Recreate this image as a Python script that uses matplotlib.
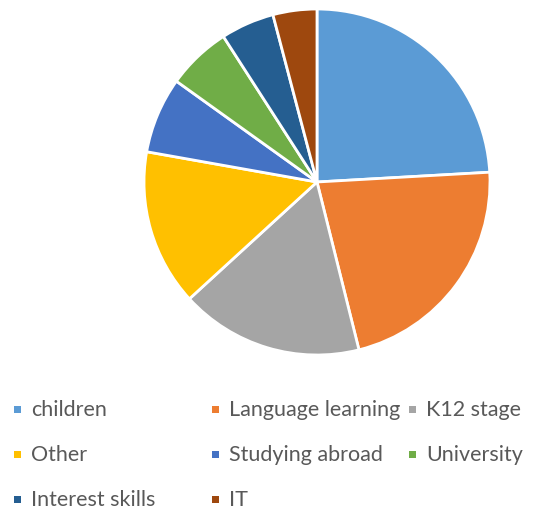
import matplotlib
matplotlib.use("Agg")
import matplotlib.pyplot as plt
from matplotlib.patches import Rectangle

categories = ["children", "Language learning", "K12 stage", "Other",
              "Studying abroad", "University", "Interest skills", "IT"]
values = [24.1, 22.0, 17.1, 14.6, 7.1, 6.0, 5.0, 4.1]
colors = ["#5B9BD5", "#ED7D31", "#A5A5A5", "#FFC000",
          "#4472C4", "#70AD47", "#255E91", "#9E480E"]

W, H = 549, 510
fig = plt.figure(figsize=(W / 100, H / 100), dpi=100)
fig.patch.set_facecolor("white")

cx, cy, r = 317, 183, 173
ax = fig.add_axes([(cx - r) / W, (H - cy - r) / H, 2 * r / W, 2 * r / H])
ax.pie(values, colors=colors, startangle=90, counterclock=False, radius=1,
       wedgeprops=dict(edgecolor="white", linewidth=2.0))
ax.set_xlim(-1, 1)
ax.set_ylim(-1, 1)
ax.set_aspect("equal")
ax.axis("off")

# legend (Excel style: 3 equal columns)
col_x = [14, 212, 409]
row_y = [410, 455, 500]
for i, (lab, col) in enumerate(zip(categories, colors)):
    c, rr = i % 3, i // 3
    x, y = col_x[c], row_y[rr]
    fig.add_artist(Rectangle((x / W, (H - y - 3.5) / H), 7 / W, 7 / H,
                             transform=fig.transFigure, facecolor=col,
                             edgecolor="none"))
    fig.text((x + 17) / W, (H - y) / H, lab, fontsize=15.5, color="#595959",
             family="Lato", va="center", ha="left")

fig.savefig("out.png", dpi=100)
